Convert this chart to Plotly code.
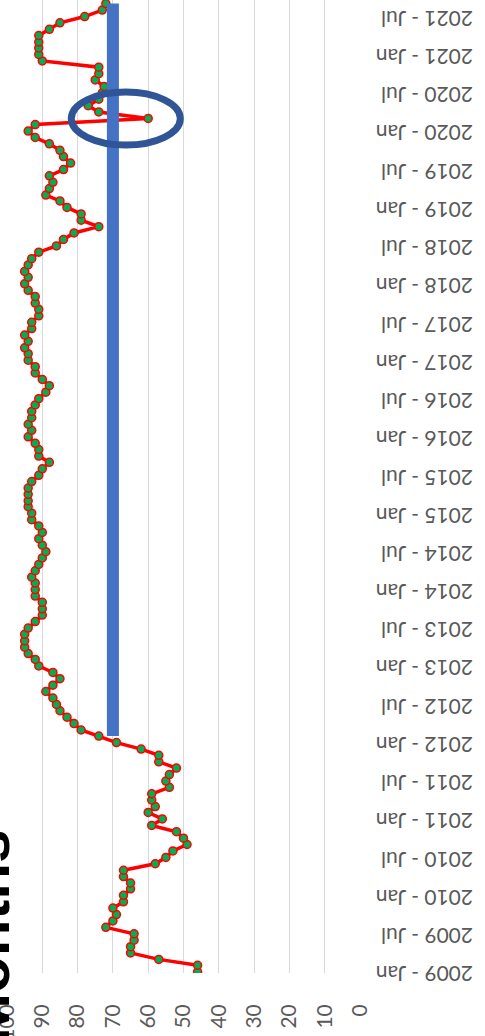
import plotly.graph_objects as go
import pandas as pd

# Monthly categories, 2009 - Jan to 2021 - Sep
months = pd.date_range("2009-01-01", periods=153, freq="MS")

values = [
    46, 46, 57, 65, 65, 64, 64, 72, 70, 69, 70, 67,        # 2009
    67, 65, 65, 67, 67, 58, 55, 53, 49, 50, 52, 59,        # 2010
    56, 60, 58, 59, 59, 54, 55, 54, 52, 57, 57, 62,        # 2011
    69, 74, 79, 81, 83, 85, 86, 87, 89, 87, 85, 87,        # 2012
    91, 92, 94, 95, 95, 95, 94, 92, 90, 90, 90, 92,        # 2013
    92, 92, 93, 92, 91, 90, 89, 90, 91, 90, 91, 93,        # 2014
    93, 94, 94, 94, 94, 93, 91, 90, 88, 91, 91, 92,        # 2015
    94, 93, 94, 93, 93, 92, 91, 89, 88, 90, 92, 92,        # 2016
    94, 94, 95, 94, 95, 93, 93, 91, 91, 92, 92, 94,        # 2017
    95, 94, 95, 94, 93, 91, 86, 84, 81, 74, 79, 79,        # 2018
    83, 85, 89, 88, 87, 88, 84, 82, 84, 85, 88, 92,        # 2019
    94, 92, 60, 74, 77, 74, 73, 72.5, 75, 74, 74, 90,      # 2020
    91, 91, 91, 91, 88, 85, 78, 73, 72,                    # 2021
]

target_start = "2012-02-01"
target_value = 70
value_ticks = list(range(0, 101, 10))
title_text = "Months"

target_dates = months[months >= target_start]

fig = go.Figure()
fig.add_trace(go.Scatter(
    x=values, y=months, mode="lines+markers",
    line=dict(color="#FF0000", width=3.5),
    marker=dict(size=8, color="#00B050", line=dict(color="#FF0000", width=1.5)),
    showlegend=False,
))
fig.add_trace(go.Scatter(
    x=[target_value] * len(target_dates), y=target_dates, mode="lines",
    line=dict(color="#4472C4", width=12),
    showlegend=False,
))

# highlight ellipse around the 2020 dip
fig.add_shape(type="circle", xref="x", yref="y",
              x0=81.8, x1=50.9, y0="2019-10-26", y1="2020-07-05",
              line=dict(color="#2F5597", width=7), layer="above")

fig.add_annotation(text="<b>" + title_text + "</b>", xref="paper", yref="paper",
                   x=0.048, y=0.0375, xanchor="right", yanchor="middle",
                   textangle=-90, showarrow=False,
                   font=dict(family="Liberation Sans", size=60, color="#000000"))

fig.update_layout(
    width=485, height=1036,
    margin=dict(l=7, r=125, t=0, b=63, autoexpand=False),
    paper_bgcolor="white", plot_bgcolor="white",
    font=dict(family="Lato", color="#595959"),
    xaxis=dict(range=[100, 0], tickvals=value_ticks, tickangle=-90,
               showgrid=True, gridcolor="#D9D9D9", gridwidth=1,
               zeroline=False, showline=False, ticks="", automargin=False,
               tickfont=dict(size=21, color="#595959"),
               ticklabelstandoff=26, ticklabeloverflow="allow"),
    yaxis=dict(type="date", range=["2008-12-26", "2021-09-18"], side="right",
               tickformat="%Y - %b", dtick="M6", tick0="2009-01-01",
               tickangle=180, showgrid=False, zeroline=False, showline=False,
               ticks="", automargin=False, ticklabeloverflow="allow",
               tickfont=dict(size=21, color="#595959"),
               ticklabelstandoff=112, ticklabelshift=8),
)

fig.write_html("out.html", config={"displayModeBar": False},
               post_script="document.body.style.margin='0';document.body.style.padding='0';")
